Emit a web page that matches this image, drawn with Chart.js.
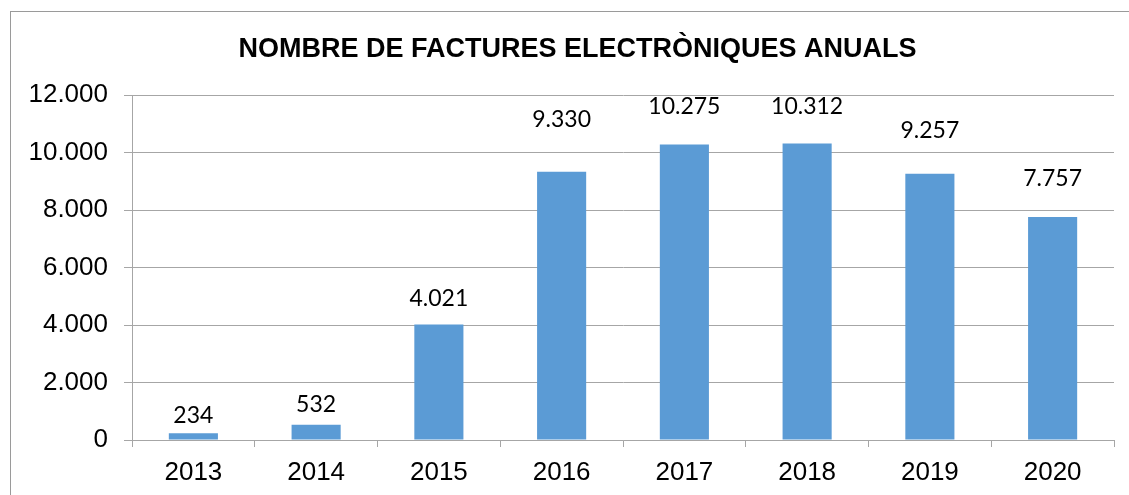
<!DOCTYPE html>
<html>
<head>
<meta charset="utf-8">
<script src="https://cdn.jsdelivr.net/npm/chart.js@4/dist/chart.umd.min.js"></script>
<style>
  html, body { margin: 0; padding: 0; background: #fff; overflow: hidden; width: 1129px; height: 495px; }
  #box { position: absolute; left: 10px; top: 11px; width: 1133px; height: 483px;
         border-left: 1px solid #9a9a9a; border-top: 1px solid #9a9a9a; }
  #c { display: block; }
</style>
</head>
<body>
<div id="box"><canvas id="c" width="1133" height="483"></canvas></div>
<script>
const titleText = "NOMBRE DE FACTURES ELECTRÒNIQUES ANUALS";
const categories = ["2013", "2014", "2015", "2016", "2017", "2018", "2019", "2020"];
const invoices = [234, 532, 4021, 9330, 10275, 10312, 9257, 7757];
const yMin = 0, yMax = 12000, yStep = 2000;

function fmt(v) {
  return String(Math.round(v)).replace(/\B(?=(\d{3})+(?!\d))/g, ".");
}

const dataLabels = {
  id: 'dataLabels',
  afterDatasetsDraw(chart, args, opts) {
    const ctx = chart.ctx;
    const meta = chart.getDatasetMeta(0);
    ctx.save();
    ctx.font = opts.font;
    ctx.fillStyle = opts.color;
    ctx.textAlign = 'center';
    ctx.textBaseline = 'alphabetic';
    meta.data.forEach((bar, i) => {
      const off = opts.offsets[i];
      ctx.fillText(fmt(chart.data.datasets[0].data[i]), bar.x, bar.y - off);
    });
    ctx.restore();
  }
};

const gridColor = '#a6a6a6';

new Chart(document.getElementById('c'), {
  type: 'bar',
  data: {
    labels: categories,
    datasets: [{
      data: invoices,
      backgroundColor: '#5B9BD5',
      borderWidth: 0,
      barPercentage: 0.4,
      categoryPercentage: 1.0,
      yAxisID: 'y'
    }]
  },
  options: {
    responsive: false,
    animation: false,
    events: [],
    layout: { padding: { left: 0, right: 0, top: 0, bottom: 9 } },
    plugins: {
      legend: { display: false },
      tooltip: { enabled: false },
      title: {
        display: true,
        text: titleText,
        color: '#000',
        font: { family: "'Liberation Sans', Arial, sans-serif", size: 27, weight: 'bold', lineHeight: 1.2 },
        padding: { top: 21, bottom: 29.6 }
      },
      dataLabels: {
        font: "23px Lato, 'Open Sans', sans-serif",
        color: '#000',
        offsets: [10, 13, 18, 45, 31, 30, 36, 31]
      }
    },
    scales: {
      x: {
        afterFit(scale) { scale.height = 46; },
        grid: { display: true, drawOnChartArea: false, drawTicks: true, tickLength: 7, color: gridColor, offset: true },
        border: { display: true, color: gridColor, width: 1 },
        ticks: { color: '#000', padding: 10, maxRotation: 0,
                 font: { family: "'Liberation Sans', Arial, sans-serif", size: 26, lineHeight: 1.2 } }
      },
      y: {
        position: 'left',
        min: yMin, max: yMax,
        afterFit(scale) { scale.width = 121; },
        grid: { color: gridColor, lineWidth: 1, drawTicks: true, tickLength: 8 },
        border: { display: true, color: gridColor, width: 1 },
        ticks: { stepSize: yStep, color: '#000', padding: 16,
                 font: { family: "'Liberation Sans', Arial, sans-serif", size: 26 },
                 callback: (v) => fmt(v) }
      },
      spacer: {
        position: 'right',
        min: yMin, max: yMax,
        afterFit(scale) { scale.width = 30; },
        grid: { display: false, drawTicks: false },
        border: { display: false },
        ticks: { display: false }
      }
    }
  },
  plugins: [dataLabels]
});
</script>
</body>
</html>
